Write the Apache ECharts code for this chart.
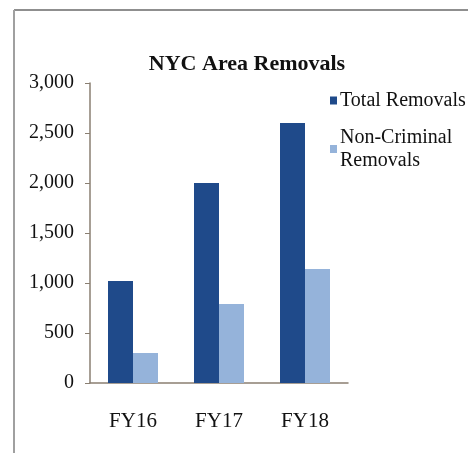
<!DOCTYPE html>
<html><head><meta charset="utf-8">
<script src="https://cdn.jsdelivr.net/npm/echarts@6/dist/echarts.min.js"></script>
<style>html,body{margin:0;padding:0;background:#fff}#c{width:468px;height:453px}</style>
</head><body><div id="c"></div>
<script>
const categories = ['FY16', 'FY17', 'FY18'];
const totalRemovals = [1020, 2000, 2600];
const nonCriminalRemovals = [300, 790, 1140];
const yTicks = [0, 500, 1000, 1500, 2000, 2500, 3000];

const chart = echarts.init(document.getElementById('c'), null, {renderer: 'canvas'});
const serif = '"Liberation Serif", "Times New Roman", serif';
chart.setOption({
  backgroundColor: '#fff',
  animation: false,
  title: {
    text: 'NYC Area Removals', left: 242, top: 48, textAlign: 'center',
    textStyle: {fontFamily: serif, fontSize: 22, fontWeight: 'bold', color: '#111'}
  },
  legend: {
    orient: 'vertical', left: 325, top: 84, itemWidth: 7, itemHeight: 8, itemGap: 14,
    icon: 'rect',
    textStyle: {fontFamily: serif, fontSize: 20, color: '#111', lineHeight: 23, padding: [0, 0, 0, -2]},
    formatter: n => n === 'Non-Criminal Removals' ? 'Non-Criminal\nRemovals' : n,
    data: ['Total Removals', 'Non-Criminal Removals']
  },
  graphic: [
    {type: 'line', shape: {x1: 14, y1: 10, x2: 468, y2: 10}, style: {stroke: '#8f8f8f', lineWidth: 2}},
    {type: 'line', shape: {x1: 14, y1: 10, x2: 14, y2: 453}, style: {stroke: '#a0a0a0', lineWidth: 2}}
  ],
  grid: {left: 90, right: 120, top: 83, bottom: 70},
  xAxis: {
    type: 'category', data: categories,
    axisLine: {lineStyle: {color: '#8a7f72', width: 1.5}},
    axisTick: {show: false},
    axisLabel: {fontFamily: serif, fontSize: 21, color: '#111', margin: 28}
  },
  yAxis: {
    type: 'value', min: 0, max: 3000, interval: 500,
    axisLine: {show: true, lineStyle: {color: '#8a7f72', width: 1.5}},
    axisTick: {show: true, length: 5, lineStyle: {color: '#8a7f72'}},
    splitLine: {show: false},
    axisLabel: {fontFamily: serif, fontSize: 20, color: '#111', margin: 16,
      formatter: v => yTicks.includes(v) ? v.toLocaleString('en-US') : ''}
  },
  series: [
    {name: 'Total Removals', type: 'bar', data: totalRemovals, barWidth: 25, barGap: '0%',
      itemStyle: {color: '#1f4a8a'}},
    {name: 'Non-Criminal Removals', type: 'bar', data: nonCriminalRemovals, barWidth: 25,
      itemStyle: {color: '#95b3da'}}
  ]
});
</script></body></html>
